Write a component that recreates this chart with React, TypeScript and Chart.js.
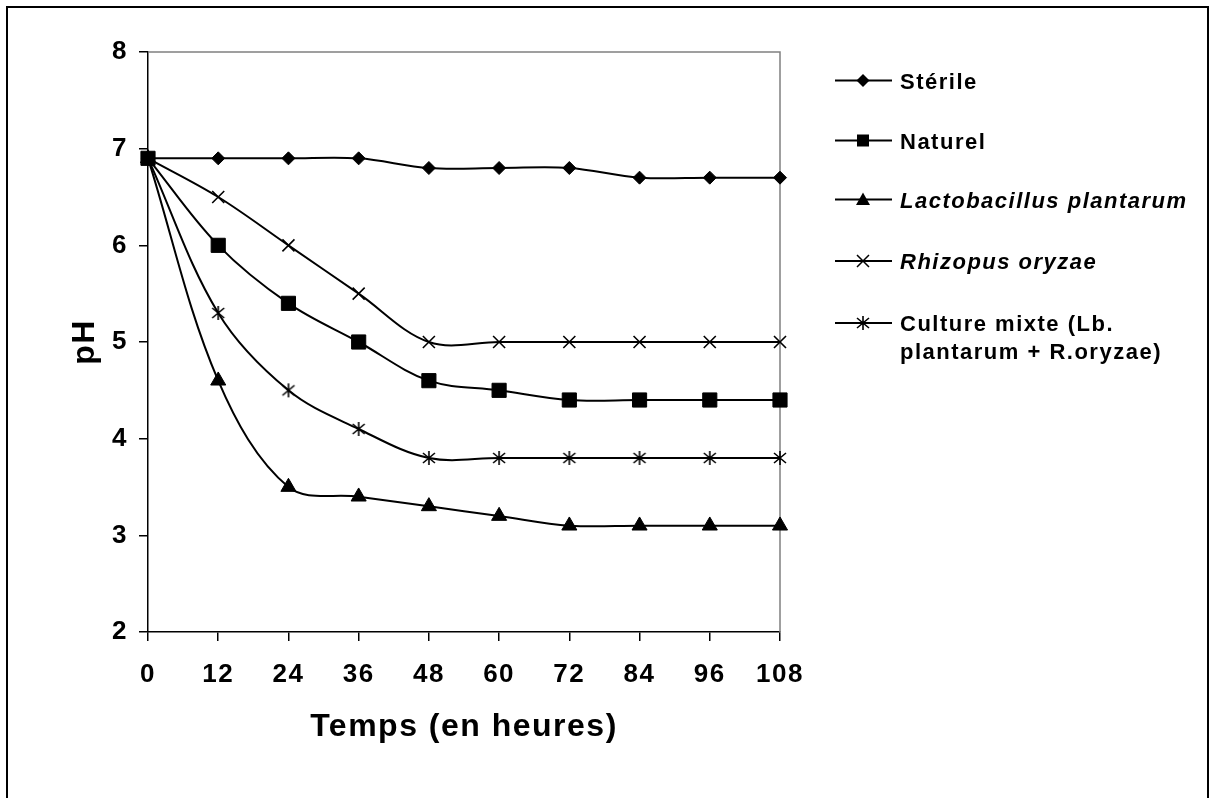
import React, { useEffect, useRef } from 'react';
import { Chart, registerables } from 'chart.js';

Chart.register(...registerables);

// ---- data ----
const hours = [0, 12, 24, 36, 48, 60, 72, 84, 96, 108];
const sterile = [6.9, 6.9, 6.9, 6.9, 6.8, 6.8, 6.8, 6.7, 6.7, 6.7];
const naturel = [6.9, 6.0, 5.4, 5.0, 4.6, 4.5, 4.4, 4.4, 4.4, 4.4];
const lacto = [6.9, 4.6, 3.5, 3.4, 3.3, 3.2, 3.1, 3.1, 3.1, 3.1];
const rhizopus = [6.9, 6.5, 6.0, 5.5, 5.0, 5.0, 5.0, 5.0, 5.0, 5.0];
const mixte = [6.9, 5.3, 4.5, 4.1, 3.8, 3.8, 3.8, 3.8, 3.8, 3.8];
const seriesNames = ['Stérile', 'Naturel', 'Lactobacillus plantarum', 'Rhizopus oryzae', 'Culture mixte (Lb. plantarum + R.oryzae)'];
const legendLines = [['Stérile'], ['Naturel'], ['Lactobacillus plantarum'], ['Rhizopus oryzae'], ['Culture mixte (Lb.', 'plantarum + R.oryzae)']];
const legendItalic = [false, false, true, true, false];
const yMin = 2;
const yMax = 8;
const xStep = 12;
const xTitle = 'Temps (en heures)';
const yTitle = 'pH';

const FONT = "'Liberation Sans', Arial, sans-serif";
const W = 1218;
const H = 798;
const SPACING = '1.5px';

function makeStar(): HTMLCanvasElement {
  const c = document.createElement('canvas');
  c.width = 16;
  c.height = 16;
  const g = c.getContext('2d')!;
  g.strokeStyle = '#000';
  g.lineWidth = 1.6;
  const m = 8;
  g.beginPath();
  g.moveTo(m - 6, m - 5); g.lineTo(m + 6, m + 5);
  g.moveTo(m + 6, m - 5); g.lineTo(m - 6, m + 5);
  g.moveTo(m, m - 7); g.lineTo(m, m + 7);
  g.stroke();
  return c;
}

function drawMarker(ctx: CanvasRenderingContext2D, kind: number, x: number, y: number, star: HTMLCanvasElement) {
  ctx.save();
  ctx.fillStyle = '#000';
  ctx.strokeStyle = '#000';
  ctx.lineWidth = 1.5;
  ctx.beginPath();
  if (kind === 0) {
    ctx.moveTo(x, y - 6.5); ctx.lineTo(x + 6.5, y); ctx.lineTo(x, y + 6.5); ctx.lineTo(x - 6.5, y); ctx.closePath(); ctx.fill();
  } else if (kind === 1) {
    ctx.rect(x - 6, y - 6, 12, 12); ctx.fill();
  } else if (kind === 2) {
    ctx.moveTo(x, y - 7); ctx.lineTo(x + 7, y + 5.5); ctx.lineTo(x - 7, y + 5.5); ctx.closePath(); ctx.fill();
  } else if (kind === 3) {
    ctx.moveTo(x - 6, y - 6); ctx.lineTo(x + 6, y + 6); ctx.moveTo(x + 6, y - 6); ctx.lineTo(x - 6, y + 6); ctx.stroke();
  } else {
    ctx.drawImage(star, x - 8, y - 8);
  }
  ctx.restore();
}

export default function App() {
  const ref = useRef<HTMLCanvasElement>(null);

  useEffect(() => {
    const canvas = ref.current!;
    const star = makeStar();
    const series = [sterile, naturel, lacto, rhizopus, mixte];
    const styles: any[] = ['rectRot', 'rect', 'triangle', 'crossRot', star];
    const radii = [6.5, 10, 8.7, 8.5, 8];

    const legendRows = [80.5, 140.5, 199.5, 261, 323];

    const framePlugin = {
      id: 'frames',
      beforeUpdate(chart: any) {
        chart.ctx.letterSpacing = SPACING;
      },
      beforeDraw(chart: any) {
        const ctx = chart.ctx as CanvasRenderingContext2D;
        (ctx as any).letterSpacing = SPACING;
        ctx.save();
        ctx.fillStyle = '#fff';
        ctx.fillRect(0, 0, W, H);
        ctx.strokeStyle = '#000';
        ctx.lineWidth = 2;
        ctx.beginPath();
        ctx.moveTo(7, H + 2);
        ctx.lineTo(7, 7);
        ctx.lineTo(1208, 7);
        ctx.lineTo(1208, H + 2);
        ctx.stroke();
        ctx.restore();
      },
      beforeDatasetsDraw(chart: any) {
        const ctx = chart.ctx as CanvasRenderingContext2D;
        const a = chart.chartArea;
        ctx.save();
        ctx.strokeStyle = '#808080';
        ctx.lineWidth = 1.5;
        ctx.beginPath();
        ctx.moveTo(a.left, a.top);
        ctx.lineTo(a.right, a.top);
        ctx.lineTo(a.right, a.bottom);
        ctx.stroke();
        ctx.restore();
      },
      afterDraw(chart: any) {
        const ctx = chart.ctx as CanvasRenderingContext2D;
        ctx.save();
        (ctx as any).letterSpacing = SPACING;
        ctx.fillStyle = '#000';
        ctx.textAlign = 'left';
        ctx.textBaseline = 'alphabetic';
        legendLines.forEach((lines, i) => {
          const y = legendRows[i];
          ctx.strokeStyle = '#000';
          ctx.lineWidth = 2;
          ctx.beginPath();
          ctx.moveTo(835, y);
          ctx.lineTo(892, y);
          ctx.stroke();
          drawMarker(ctx, i, 863, y, star);
          ctx.font = `${legendItalic[i] ? 'italic ' : ''}bold 22px ${FONT}`;
          lines.forEach((t, j) => {
            ctx.fillText(t, 900, y + 8 + j * 28);
          });
        });
        ctx.restore();
      },
    };

    const chart = new Chart(canvas, {
      type: 'line',
      data: {
        datasets: series.map((vals, i) => ({
          label: seriesNames[i],
          data: hours.map((h, k) => ({ x: h, y: vals[k] })),
          borderColor: '#000',
          backgroundColor: '#000',
          borderWidth: 2,
          pointStyle: styles[i],
          pointRadius: radii[i],
          pointBorderWidth: i === 3 ? 1.6 : 1,
          pointBackgroundColor: '#000',
          pointBorderColor: '#000',
          tension: 0.35,
          fill: false,
          clip: false,
        })),
      },
      options: {
        responsive: false,
        animation: false,
        devicePixelRatio: 1,
        events: [],
        layout: { padding: { left: 66, top: 52, right: 438, bottom: 51.4 } },
        plugins: {
          legend: { display: false },
          tooltip: { enabled: false },
          title: { display: false },
        },
        scales: {
          x: {
            type: 'linear',
            min: 0,
            max: hours[hours.length - 1],
            afterFit: (s: any) => { s.height = 114.6; },
            ticks: {
              stepSize: xStep,
              color: '#000',
              padding: 18,
              font: { family: FONT, size: 26, weight: 'bold' },
            },
            grid: { drawOnChartArea: false, drawTicks: true, tickLength: 9, color: '#000', lineWidth: 1.5 },
            border: { display: true, color: '#000', width: 1.5 },
            title: {
              display: true,
              text: xTitle,
              color: '#000',
              font: { family: FONT, size: 32, weight: 'bold' },
              padding: { top: 0, bottom: 0 },
            },
          },
          y: {
            type: 'linear',
            min: yMin,
            max: yMax,
            afterFit: (s: any) => { s.width = 82; },
            ticks: {
              stepSize: 1,
              color: '#000',
              padding: 11,
              font: { family: FONT, size: 26, weight: 'bold' },
            },
            grid: { drawOnChartArea: false, drawTicks: true, tickLength: 9, color: '#000', lineWidth: 1.5 },
            border: { display: true, color: '#000', width: 1.5 },
            title: {
              display: true,
              text: yTitle,
              color: '#000',
              font: { family: FONT, size: 32, weight: 'bold' },
              padding: { top: 0, bottom: 0 },
            },
          },
        },
      },
      plugins: [framePlugin],
    });

    return () => chart.destroy();
  }, []);

  return (
    <div style={{ position: 'fixed', left: 0, top: 0, width: W, height: H, background: '#fff' }}>
      <canvas ref={ref} width={W} height={H} style={{ width: W, height: H, display: 'block' }} />
    </div>
  );
}
